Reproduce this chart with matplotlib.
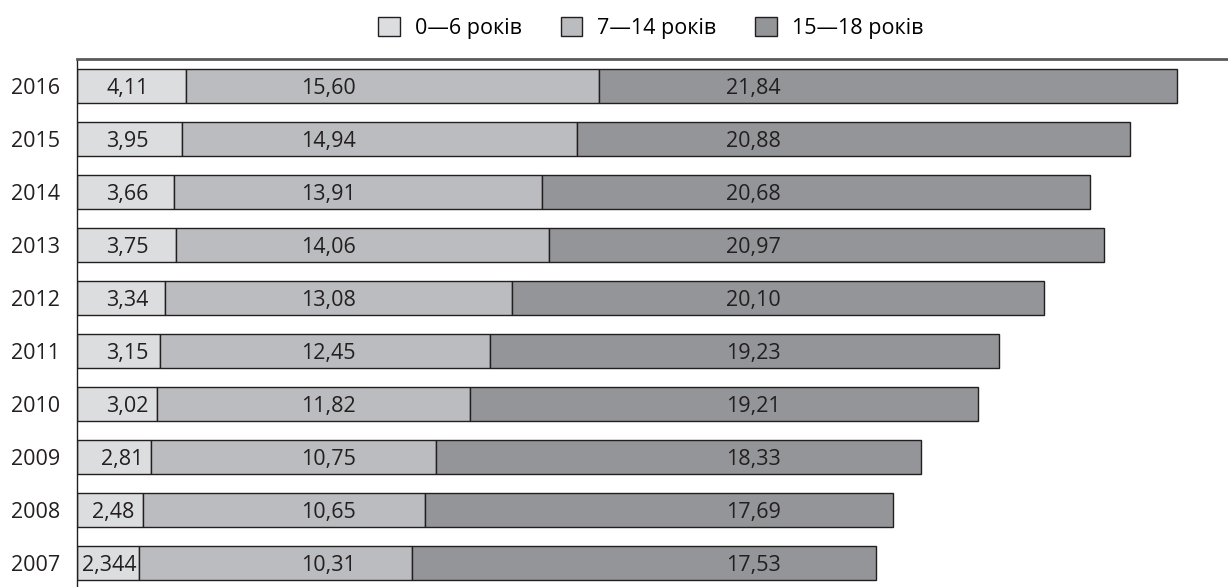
import numpy as np
import matplotlib.pyplot as plt
from matplotlib.patches import Patch

plt.rcParams['font.family'] = ['Open Sans', 'DejaVu Sans']

years = ['2007', '2008', '2009', '2010', '2011', '2012', '2013', '2014', '2015', '2016']
age_0_6 = [2.344, 2.48, 2.81, 3.02, 3.15, 3.34, 3.75, 3.66, 3.95, 4.11]
age_7_14 = [10.31, 10.65, 10.75, 11.82, 12.45, 13.08, 14.06, 13.91, 14.94, 15.60]
age_15_18 = [17.53, 17.69, 18.33, 19.21, 19.23, 20.10, 20.97, 20.68, 20.88, 21.84]
series_names = ['0\u20146 років', '7\u201414 років', '15\u201418 років']

colors = ['#dcdddf', '#bbbcbf', '#939598']
edge = '#231f20'


def fmt(v):
    s = f'{v:.2f}' if round(v, 2) == v else f'{v:.3f}'
    return s.replace('.', ',')


fig = plt.figure(figsize=(12.28, 5.87), dpi=100)
ax = fig.add_axes([77 / 1228, 0, 1 - 77 / 1228, 1 - 59 / 587])

y = np.arange(len(years))
a = np.array(age_0_6)
b = np.array(age_7_14)
c = np.array(age_15_18)

h = 0.64
ax.barh(y, a, height=h, color=colors[0], edgecolor=edge, linewidth=1)
ax.barh(y, b, left=a, height=h, color=colors[1], edgecolor=edge, linewidth=1)
ax.barh(y, c, left=a + b, height=h, color=colors[2], edgecolor=edge, linewidth=1)

fs = 15.5
for i in range(len(years)):
    ax.text(min(1.9, a[i] - 1.12), y[i] - 0.04, fmt(a[i]), ha='center', va='center',
            fontsize=fs, color='#231f20')
    ax.text(9.5, y[i] - 0.04, fmt(b[i]), ha='center', va='center',
            fontsize=fs, color='#231f20')
    ax.text(25.55, y[i] - 0.04, fmt(c[i]), ha='center', va='center',
            fontsize=fs, color='#231f20')

ax.set_xlim(0, 41.55 * 1151 / 1100)
ax.set_ylim(-0.45, 9.51)
ax.set_yticks(y)
ax.set_yticklabels(years, fontsize=fs, color='#231f20')
ax.tick_params(axis='y', length=0, pad=12)
ax.set_xticks([])

ax.spines['right'].set_visible(False)
ax.spines['bottom'].set_visible(False)
ax.spines['top'].set_color('#5a5a5a')
ax.spines['top'].set_linewidth(2)
ax.spines['left'].set_color('#231f20')
ax.spines['left'].set_linewidth(1)

handles = [Patch(facecolor=colors[k], edgecolor=edge, linewidth=1) for k in range(3)]
fig.legend(handles, series_names, loc='center', bbox_to_anchor=(0.53, 1 - 28 / 587),
           ncol=3, frameon=False, fontsize=fs, handlelength=1.0, handleheight=1.0,
           columnspacing=1.8, handletextpad=0.7)

fig.savefig('out.png', dpi=100)
